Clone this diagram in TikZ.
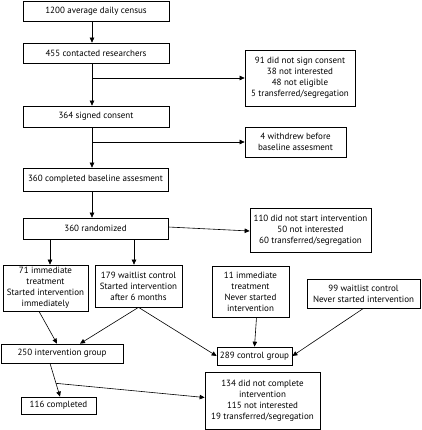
\documentclass[tikz,border=0pt]{standalone}
\usepackage{fontspec}
\setmainfont{PT Sans}
\usetikzlibrary{arrows.meta}
\tikzset{
  box/.style={draw, line width=0.7pt, align=center, inner sep=1pt,
    font=\fontsize{9}{11}\selectfont},
  arr/.style={line width=0.6pt, -{Triangle[length=5pt,width=4.5pt]}}
}
\begin{document}
\begin{tikzpicture}[x=1pt, y=-1pt]
        \useasboundingbox (0, 0) rectangle (421, 430);
        \node[box, minimum width=146, minimum height=20] (census) at (96, 11) {1200 average daily census};
        \node[box, minimum width=146, minimum height=20] (contacted) at (96, 53) {455 contacted researchers};
        \node[box, minimum width=110, minimum height=56] (nosign) at (300, 78) {91 did not sign consent\\38 not interested\\48 not eligible\\5 transferred/segregation};
        \node[box, minimum width=146, minimum height=21] (signed) at (96, 116.5) {364 signed consent};
        \node[box, minimum width=101, minimum height=30] (withdrew) at (295.5, 142) {4 withdrew before\\baseline assesment};
        \node[box, minimum width=145, minimum height=23] (baseline) at (95.5, 179.5) {360 completed baseline assesment};
        \node[box, minimum width=145, minimum height=21] (random) at (95.5, 228.5) {360 randomized};
        \node[box, minimum width=121, minimum height=44] (nostart) at (310.5, 230) {110 did not start intervention\\50 not interested\\60 transferred/segregation};
        \node[box, minimum width=85, minimum height=46] (immstart) at (45.5, 288) {71 immediate\\treatment\\Started intervention\\immediately};
        \node[box, minimum width=87, minimum height=42] (waitstart) at (138.5, 286) {179 waitlist control\\Started intervention\\after 6 months};
        \node[box, minimum width=77, minimum height=51] (immnever) at (250.5, 291.5) {11 immediate\\treatment\\Never started\\intervention};
        \node[box, minimum width=113, minimum height=29] (waitnever) at (363.5, 293.5) {99 waitlist control\\Never started intervention};
        \node[box, minimum width=122, minimum height=19] (intgroup) at (62, 353.5) {250 intervention group};
        \node[box, minimum width=75, minimum height=18] (ctrlgroup) at (254.5, 356) {289 control group};
        \node[box, minimum width=75, minimum height=17] (completed) at (58.5, 405.5) {116 completed};
        \node[box, minimum width=115, minimum height=57] (notcompl) at (262.5, 400.5) {134 did not complete\\intervention\\115 not interested\\19 transferred/segregation};
        \draw[arr] (census.south -| 92,0) -- (contacted.north -| 92,0);
        \draw[arr] (contacted.south -| 92,0) -- (signed.north -| 92,0);
        \draw[arr] (nosign.west -| 92,0) -- (nosign.west);
        \draw[arr] (signed.south -| 92,0) -- (baseline.north -| 92,0);
        \draw[arr] (withdrew.west -| 92,0) -- (withdrew.west);
        \draw[arr] (baseline.south -| 92,0) -- (random.north -| 92,0);
        \draw[arr] ([yshift=1.5pt]random.east) -- ([yshift=-1pt]nostart.west);
        \draw[arr] (random.south -| 50,0) -- (immstart.north -| 50,0);
        \draw[arr] (random.south -| 134,0) -- (waitstart.north -| 134,0);
        \draw[arr] ([xshift=-6.5pt]immstart.south) -- ([xshift=-5pt]intgroup.north);
        \draw[arr] (waitstart.south) -- ([xshift=18pt]intgroup.north);
        \draw[arr] (waitstart.south) -- (ctrlgroup.west);
        \draw[arr] ([xshift=6pt]immnever.south) -- (ctrlgroup.north);
        \draw[arr] (waitnever.south) -- (ctrlgroup.east);
        \draw[arr] ([xshift=-12pt]intgroup.south) -- coordinate[pos=0.6] (split) ([xshift=1.5pt]completed.north);
        \draw[arr] (split) -- ([yshift=3pt]notcompl.west);
    \end{tikzpicture}
\end{document}
